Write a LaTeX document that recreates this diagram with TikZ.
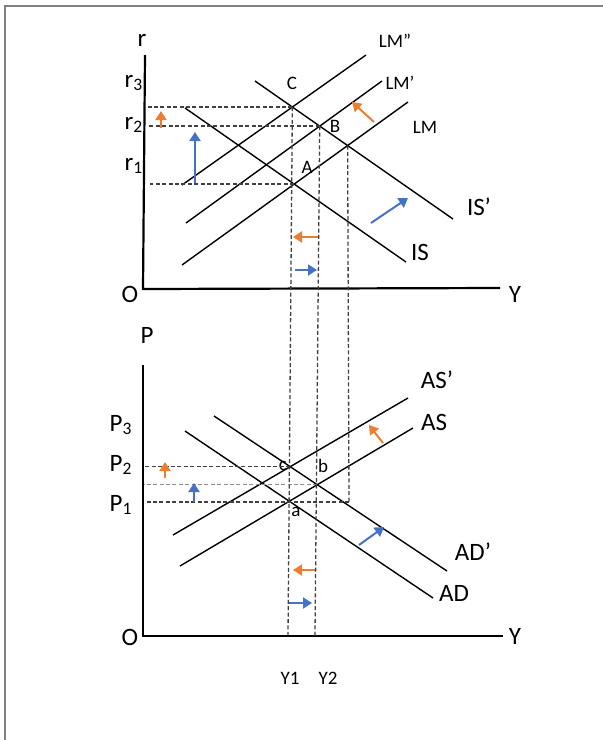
\documentclass[tikz,border=0pt]{standalone}
\usepackage{fontspec}
\setmainfont{Carlito}
\usetikzlibrary{arrows.meta}
\definecolor{moveorange}{RGB}{237,125,49}
\definecolor{moveblue}{RGB}{68,114,196}

\begin{document}
\begin{tikzpicture}[x=0.5pt, y=-0.5pt, every node/.style={font=\fontsize{12.5}{15}\selectfont, inner sep=0pt},
	ptlabel/.style={font=\fontsize{9.5}{11}\selectfont}, axis/.style={line width=1.1pt},
	sched/.style={line width=0.7pt}, guide/.style={line width=0.65pt, black!75, dash pattern=on 2pt off 1.2pt},
	move/.style={->, line width=1pt}, >={Triangle[length=4.5pt, width=5.5pt]}]
	\useasboundingbox (0,0) rectangle (603,740);
	\draw[gray, line width=1pt] (5,740) -- (5,6) -- (603,6);
	\draw[axis] (145,55) -- (143,289) -- (500,288);
	\node at (142,40) {r};
	\node at (130,294) {O};
	\node at (515,294) {Y};
	\node at (134,83) {r\textsubscript{3}};
	\node at (134,125) {r\textsubscript{2}};
	\node at (134,166) {r\textsubscript{1}};
	\draw[sched] (185,108) coordinate (is0) -- (406,262) coordinate (is1);
	\draw[sched] (255,81) coordinate (isb0) -- (453,219) coordinate (isb1);
	\draw[sched] (182,265) coordinate (lm0) -- (408,102) coordinate (lm1);
	\draw[sched] (186,223) coordinate (lmb0) -- (382,81) coordinate (lmb1);
	\draw[sched] (182,185) coordinate (lmc0) -- (366,55) coordinate (lmc1);
	\node at (420,252) {IS};
	\node at (479,207) {IS’};
	\node[ptlabel] at (425,127) {LM};
	\node[ptlabel] at (400,83) {LM’};
	\node[ptlabel] at (395,41) {LM”};
	\coordinate (A) at (intersection of is0--is1 and lm0--lm1);
	\coordinate (B) at (intersection of isb0--isb1 and lmb0--lmb1);
	\coordinate (C) at (intersection of isb0--isb1 and lmc0--lmc1);
	\coordinate (D) at (intersection of isb0--isb1 and lm0--lm1);
	\node[ptlabel] at (307,167) {A};
	\node[ptlabel] at (335,126) {B};
	\node[ptlabel] at (292,83) {C};
	\draw[guide] (C) -- ++(-144,0);
	\draw[guide] (B) -- ++(-171,0);
	\draw[guide] (A) -- ++(-144,0);
	\draw[axis] (143,365) -- (143,636) -- (503,636);
	\node at (147,335) {P};
	\node at (130,637) {O};
	\node at (515,636) {Y};
	\node at (121,425) {P\textsubscript{3}};
	\node at (121,465) {P\textsubscript{2}};
	\node at (121,505) {P\textsubscript{1}};
	\draw[sched] (180,566) coordinate (as0) -- (413,428) coordinate (as1);
	\draw[sched] (173,535) coordinate (asb0) -- (408,398) coordinate (asb1);
	\draw[sched] (185,431) coordinate (ad0) -- (433,598) coordinate (ad1);
	\draw[sched] (214,416) coordinate (adb0) -- (447,571) coordinate (adb1);
	\node at (434,422) {AS};
	\node at (437,380) {AS’};
	\node at (454,593) {AD};
	\node at (473,552) {AD’};
	\coordinate (a) at (intersection of as0--as1 and ad0--ad1);
	\coordinate (b) at (intersection of as0--as1 and adb0--adb1);
	\coordinate (c) at (intersection of asb0--asb1 and adb0--adb1);
	\coordinate (d) at (349,502);
	\coordinate (y1) at (288,636);
	\coordinate (y2) at (315,636);
	\node[ptlabel] at (296,512) {a};
	\node[ptlabel] at (323,466) {b};
	\node[ptlabel] at (283,466) {c};
	\draw[guide] (c) -- ++(-145,0);
	\draw[guide, black!45] (b) -- ++(-173,0);
	\draw[guide] (d) -- ++(-204,0);
	\draw[guide] (C) -- (y1);
	\draw[guide] (B) -- (y2);
	\draw[guide] (D) -- (d);
	\node[ptlabel] at (290,678) {Y1};
	\node[ptlabel] at (328,678) {Y2};
	\draw[move, moveorange] (161,128) -- (161,111);
	\draw[move, moveblue] (195,183) -- (195,132);
	\draw[move, moveorange] (374,122) -- (352,102);
	\draw[move, moveblue] (371,223) -- (408,198);
	\draw[move, moveorange] (318,237) -- (293,237);
	\draw[move, moveblue] (295,270) -- (317,270);
	\draw[move, moveorange] (165,478) -- (165,462);
	\draw[move, moveblue] (194,502) -- (194,483);
	\draw[move, moveorange] (383,443) -- (369,425);
	\draw[move, moveblue] (359,545) -- (384,527);
	\draw[move, moveorange] (315,570) -- (293,570);
	\draw[move, moveblue] (289,603) -- (312,603);
\end{tikzpicture}
\end{document}
